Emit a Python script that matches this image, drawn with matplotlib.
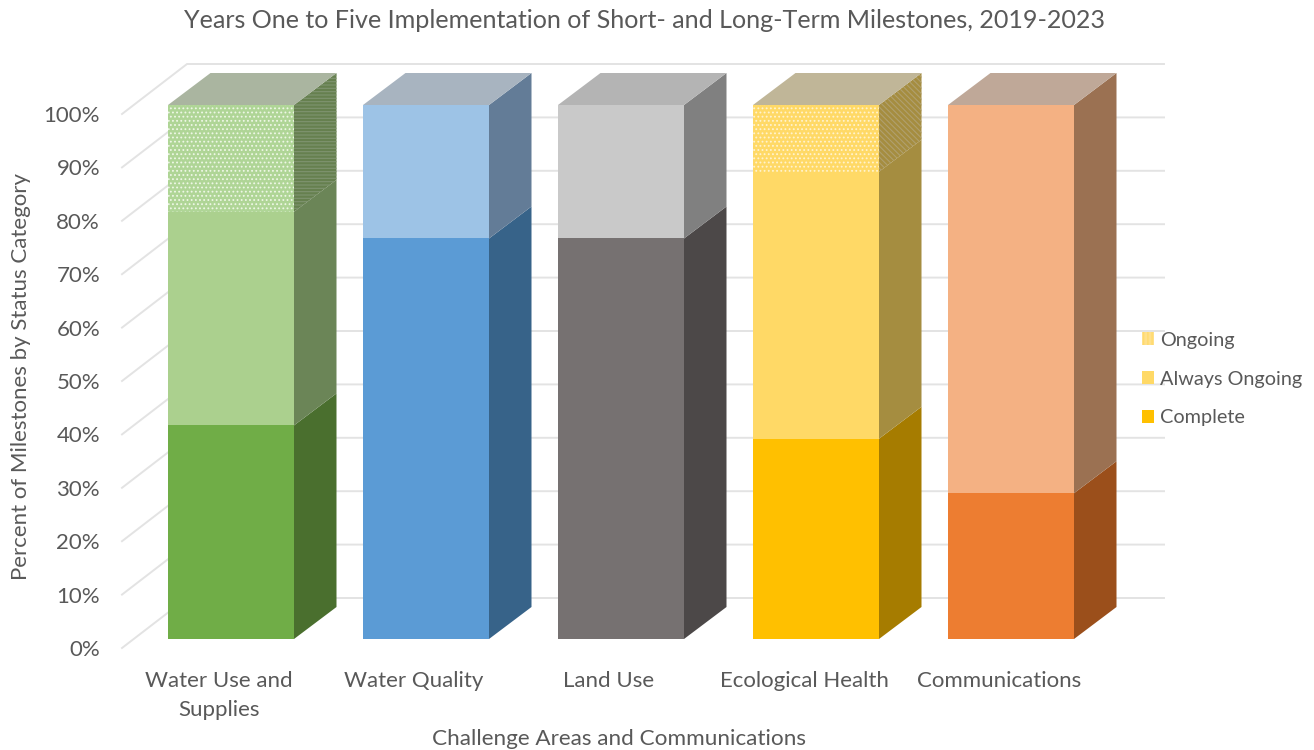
import matplotlib
matplotlib.use("Agg")
import matplotlib.pyplot as plt
from matplotlib.patches import Patch, Polygon

plt.rcParams["font.family"] = ["Lato", "DejaVu Sans"]
plt.rcParams["hatch.linewidth"] = 0.8

categories = ["Water Use and\nSupplies", "Water Quality", "Land Use", "Ecological Health", "Communications"]
status_names = ["Complete", "Always Ongoing", "Ongoing"]
complete = [40, 75, 75, 37.5, 27.3]
always_ongoing = [40, 25, 25, 50, 72.7]
ongoing = [20, 0, 0, 12.5, 0]
y_ticks = [0, 10, 20, 30, 40, 50, 60, 70, 80, 90, 100]

# colours per category: front, side
complete_colors = [("#70AD47", "#4A6F2E"), ("#5B9BD5", "#376389"), ("#767171", "#4C4848"), ("#FFC000", "#A67C00"), ("#ED7D31", "#9B4F1B")]
always_colors = [("#ABD08E", "#6B8557"), ("#9DC3E6", "#637C97"), ("#C9C9C9", "#808080"), ("#FFD966", "#A58D40"), ("#F4B183", "#9B7152")]
ongoing_colors = [("#AFD596", "#66804F"), ("#9DC3E6", "#637C97"), ("#C9C9C9", "#808080"), ("#FFD966", "#A58D40"), ("#F4B183", "#9B7152")]
ongoing_dots = ["#EEF7E6", "#FFF3CF"]
ongoing_side_lines = ["#7F9470", "#B0A06E"]
top_colors = ["#AAB5A0", "#A8B4C0", "#B4B4B4", "#C0B698", "#BFA898"]

TEXT = "#595959"
GRID = "#E3E3E3"

# scale of the chart in figure pixels
W, H = 1314, 750
PX_PER_CAT = 195.0
PX_PER_PCT = 5.34
X0_PX, Y0_PX = 231.0, 639.0
BAR_W = 126 / PX_PER_CAT
DEPTH_X = 42.5 / PX_PER_CAT
DEPTH_Y = 32 / PX_PER_PCT
# walls, relative to the plane of the bar fronts
WALL_FRONT_X = (122 - X0_PX) / PX_PER_CAT
WALL_FRONT_Y = (639 - 648) / PX_PER_PCT
WALL_BACK_X = (187 - X0_PX) / PX_PER_CAT
WALL_BACK_Y = (639 - 598) / PX_PER_PCT
WALL_END_X = (1164 - X0_PX) / PX_PER_CAT
# the labels sit a little left of the bar centres
LABEL_SHIFT = 12 / PX_PER_CAT

left, right, top, bottom = 100, 1200, 50, 666
fig = plt.figure(figsize=(W / 100, H / 100), dpi=100)
ax = fig.add_axes([left / W, 1 - bottom / H, (right - left) / W, (bottom - top) / H])
ax.set_xlim((left - X0_PX) / PX_PER_CAT, (right - X0_PX) / PX_PER_CAT)
ax.set_ylim((Y0_PX - bottom) / PX_PER_PCT, (Y0_PX - top) / PX_PER_PCT)
for s in ax.spines.values():
    s.set_visible(False)

for t in y_ticks:
    ax.plot([WALL_FRONT_X, WALL_BACK_X, WALL_END_X],
            [WALL_FRONT_Y + t, WALL_BACK_Y + t, WALL_BACK_Y + t],
            color=GRID, lw=1.4, zorder=1, solid_joinstyle="miter")


def draw_segment(i, y0, height, front, side, dots=None, lines=None, hatch=None):
    x1 = i + BAR_W / 2
    y1 = y0 + height
    side_pts = [(x1, y0), (x1 + DEPTH_X, y0 + DEPTH_Y), (x1 + DEPTH_X, y1 + DEPTH_Y), (x1, y1)]
    ax.bar(i, height, BAR_W, bottom=y0, color=front, linewidth=0, zorder=3)
    ax.add_patch(Polygon(side_pts, closed=True, facecolor=side, edgecolor="none", zorder=2 + y0 * 0.0001))
    if dots:
        ax.bar(i, height, BAR_W, bottom=y0, color="none", edgecolor=dots, hatch="....", linewidth=0, zorder=4)
        ax.add_patch(Polygon(side_pts, closed=True, facecolor="none", edgecolor=lines, hatch=hatch, linewidth=0, zorder=3))


for i in range(len(categories)):
    draw_segment(i, 0, complete[i], complete_colors[i][0], complete_colors[i][1])
    draw_segment(i, complete[i], always_ongoing[i], always_colors[i][0], always_colors[i][1])
    base = complete[i] + always_ongoing[i]
    if ongoing[i] > 0:
        if i == 0:
            draw_segment(i, base, ongoing[i], ongoing_colors[i][0], ongoing_colors[i][1],
                         ongoing_dots[0], ongoing_side_lines[0], "-----")
        else:
            draw_segment(i, base, ongoing[i], ongoing_colors[i][0], ongoing_colors[i][1],
                         ongoing_dots[1], ongoing_side_lines[1], "\\\\\\\\\\\\")
    x0 = i - BAR_W / 2
    x1 = i + BAR_W / 2
    ax.add_patch(Polygon([(x0, 100), (x1, 100), (x1 + DEPTH_X, 100 + DEPTH_Y), (x0 + DEPTH_X, 100 + DEPTH_Y)],
                         closed=True, facecolor=top_colors[i], edgecolor="none", zorder=3))

ax.set_xticks([i - LABEL_SHIFT for i in range(len(categories))])
ax.set_xticklabels(categories, fontsize=16, color=TEXT, linespacing=1.58)
ax.set_yticks([t + WALL_FRONT_Y for t in y_ticks])
ax.set_yticklabels([str(t) + "%" for t in y_ticks], fontsize=16, color=TEXT)
ax.tick_params(axis="y", length=0, pad=0)
ax.tick_params(axis="x", length=0, pad=3.5)

handles = [Patch(facecolor="#FFE08A", edgecolor="#FFD966", hatch="||||", lw=0),
           Patch(facecolor="#FFD966"),
           Patch(facecolor="#FFC000")]
fig.legend(handles, [status_names[2], status_names[1], status_names[0]],
           loc="center left", bbox_to_anchor=(1142 / W, 1 - 379 / H), frameon=False,
           fontsize=14.3, labelcolor=TEXT, handlelength=0.58, handleheight=0.6,
           handletextpad=0.35, labelspacing=1.1, borderpad=0, borderaxespad=0)

fig.text(644 / W, 1 - 20 / H, "Years One to Five Implementation of Short- and Long-Term Milestones, 2019-2023",
         ha="center", va="center", fontsize=18.1, color=TEXT)
fig.text(619 / W, 1 - 739 / H, "Challenge Areas and Communications", ha="center", va="center", fontsize=16.2, color=TEXT)
fig.text(21 / W, 1 - 376 / H, "Percent of Milestones by Status Category", ha="center", va="center",
         rotation=90, fontsize=16, color=TEXT)

fig.savefig("out.png", dpi=100)
